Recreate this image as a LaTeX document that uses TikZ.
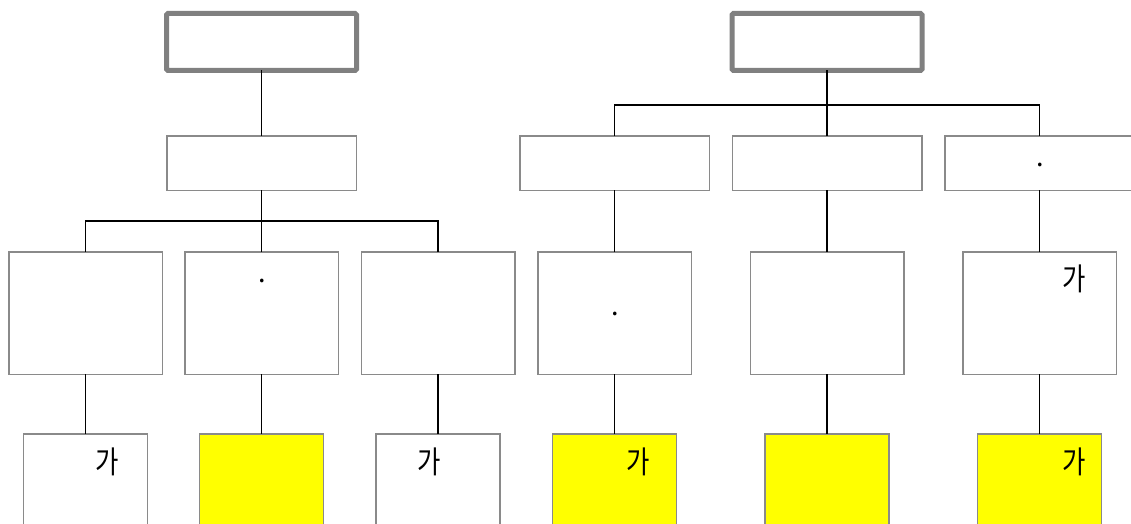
\documentclass[tikz,border=0pt]{standalone}
\usepackage{fontspec}
\newfontfamily\kr{Noto Sans CJK KR}
\definecolor{bordergray}{HTML}{808080}
\definecolor{thingray}{HTML}{8A8A8A}
\definecolor{boxyellow}{HTML}{FFFF00}
\begin{document}
\begin{tikzpicture}[x=1pt,y=-1pt,
  topbox/.style={draw=bordergray, line width=5pt, rounded corners=1.5pt, fill=white,
    minimum width=190pt, minimum height=57pt, inner sep=0pt, outer sep=0pt},
  midbox/.style={draw=thingray, line width=1.5pt, fill=white,
    minimum width=189.5pt, minimum height=54.5pt, inner sep=0pt, outer sep=0pt},
  lowbox/.style={draw=thingray, line width=1.5pt, fill=white,
    minimum width=153.5pt, minimum height=122.5pt, inner sep=0pt, outer sep=0pt},
  leafbox/.style={draw=thingray, line width=1.5pt, fill=white,
    minimum width=124pt, minimum height=100pt, inner sep=0pt, outer sep=0pt},
  hl/.style={fill=boxyellow},
  conn/.style={draw=black, line width=1.6pt},
  ga/.style={inner sep=0pt, font=\kr\fontsize{31}{31}\selectfont, xscale=0.82},
  dot/.style={inner sep=0pt, font=\kr\fontsize{27}{27}\selectfont}
]
\useasboundingbox (0,0) rectangle (1131,524);
\clip (0,0) rectangle (1131,524);

% top boxes
\node[topbox] (t1) at (261.5,42) {};
\node[topbox] (t2) at (827,42) {};

% level 2
\node[midbox] (m1) at (261.5,163) {};
\node[midbox] (m2) at (614.5,163) {};
\node[midbox] (m3) at (827,163) {};
\node[midbox] (m4) at (1039.5,163) {};

% level 3
\node[lowbox] (a1) at (85.5,313) {};
\node[lowbox] (a2) at (261.5,313) {};
\node[lowbox] (a3) at (438,313) {};
\node[lowbox] (a4) at (614.5,313) {};
\node[lowbox] (a5) at (827,313) {};
\node[lowbox] (a6) at (1039.5,313) {};

% level 4
\node[leafbox] (b1) at (85.5,484) {};
\node[leafbox,hl] (b2) at (261.5,484) {};
\node[leafbox] (b3) at (438,484) {};
\node[leafbox,hl] (b4) at (614.5,484) {};
\node[leafbox,hl] (b5) at (827,484) {};
\node[leafbox,hl] (b6) at (1039.5,484) {};

% connectors left tree
\draw[conn] (t1.south) -- (m1.north);
\coordinate (jl) at (261.5,221);
\draw[conn] (m1.south) -- (jl);
\draw[conn] (a1.north) |- (jl) -| (a3.north);
\draw[conn] (jl) -- (a2.north);

% connectors right tree
\coordinate (jr) at (827,105);
\draw[conn] (t2.south) -- (jr);
\draw[conn] (m2.north) |- (jr) -| (m4.north);
\draw[conn] (jr) -- (m3.north);
\draw[conn] (m2.south) -- (a4.north);
\draw[conn] (m3.south) -- (a5.north);
\draw[conn] (m4.south) -- (a6.north);

% level 3 to level 4
\draw[conn] (a1.south) -- (b1.north);
\draw[conn] (a2.south) -- (b2.north);
\draw[conn] (a3.south) -- (b3.north);
\draw[conn] (a4.south) -- (b4.north);
\draw[conn] (a5.south) -- (b5.north);
\draw[conn] (a6.south) -- (b6.north);

% texts
\node[ga] (g1) at (107.5,461.5) {가};
\node[ga] (g3) at (429,461.5) {가};
\node[ga] (g4) at (638,461.5) {가};
\node[ga] (g6) at (1074,461.5) {가};
\node[ga] (g7) at (1074,278.5) {가};
\node[dot] (d1) at (262,281) {.};
\node[dot] (d2) at (615,314) {.};
\node[dot] (d3) at (1040,165) {.};
\end{tikzpicture}
\end{document}
